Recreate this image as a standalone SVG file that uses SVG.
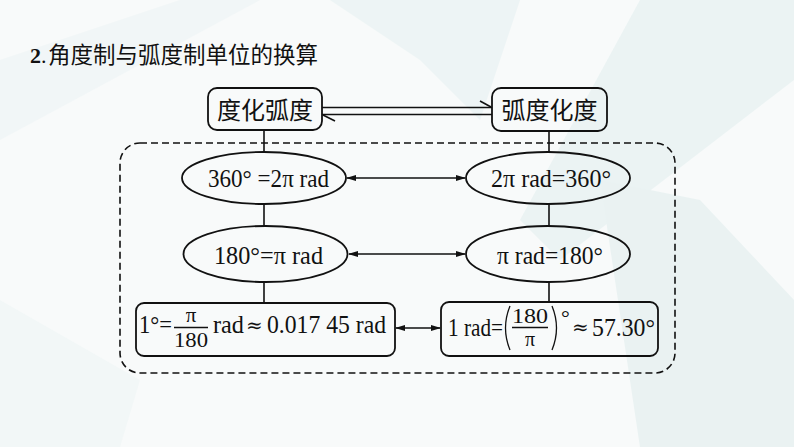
<svg xmlns="http://www.w3.org/2000/svg" width="794" height="447" viewBox="0 0 794 447">
<defs>
<marker id="ah" markerWidth="10" markerHeight="8" refX="9" refY="4" orient="auto-start-reverse" markerUnits="userSpaceOnUse">
<path d="M0,1 L10,4 L0,7 Z" fill="#111"/>
</marker>
<style>
.ln{stroke:#111;stroke-width:1.6;fill:none}
.nd{fill:none;stroke:#111;stroke-width:1.8}
.tx{font-family:"Liberation Serif","Times New Roman",serif;font-size:25px;fill:#111}
.sy{font-family:"DejaVu Serif",serif;font-size:20px;fill:#111}
.cj{font-family:"Noto Sans CJK SC","Noto Sans",sans-serif;font-size:23px;fill:#111}
</style>
</defs>
<rect width="794" height="447" fill="#f8fafa"/>
<g opacity="0.6">
<polygon points="330,0 520,0 480,120 420,60" fill="#e6f1f2"/>
<polygon points="640,0 794,0 794,80 560,260 520,220" fill="#e3f0f0"/>
<polygon points="600,180 700,200 794,300 794,447 640,447" fill="#e1eeee"/>
<polygon points="0,60 180,0 260,0 0,140" fill="#edf4f5"/>
<polygon points="0,300 140,380 120,447 0,447" fill="#eef5f5"/>
</g>
<g id="title">
<text x="30" y="63" style="font-family:'Liberation Serif',serif;font-size:22px;font-weight:bold;fill:#111">2</text>
<text x="41" y="63" style="font-family:'Liberation Serif',serif;font-size:22px;fill:#111">.</text>
<text x="48" y="63" class="cj" style="font-size:22.5px">角度制与弧度制单位的换算</text>
</g>
<g id="connectors">
<line class="ln" x1="322" y1="107.5" x2="492" y2="107.5"/>
<line class="ln" x1="480" y1="101" x2="491" y2="107"/>
<line class="ln" x1="322" y1="114.5" x2="492" y2="114.5"/>
<line class="ln" x1="323" y1="115" x2="335" y2="121"/>
<line class="ln" x1="264" y1="130" x2="264" y2="152"/>
<line class="ln" x1="264" y1="204" x2="264" y2="226"/>
<line class="ln" x1="264" y1="282" x2="264" y2="303"/>
<line class="ln" x1="549" y1="131" x2="549" y2="152"/>
<line class="ln" x1="549" y1="204" x2="549" y2="226"/>
<line class="ln" x1="549" y1="282" x2="549" y2="302"/>
<line class="ln" x1="347" y1="178" x2="465" y2="178" marker-start="url(#ah)" marker-end="url(#ah)"/>
<line class="ln" x1="349" y1="254" x2="465" y2="254" marker-start="url(#ah)" marker-end="url(#ah)"/>
<line class="ln" x1="396" y1="328" x2="440" y2="328" marker-start="url(#ah)" marker-end="url(#ah)"/>
</g>
<g id="group-box">
<rect x="120" y="143" width="555" height="230" rx="20" fill="none" stroke="#111" stroke-width="1.6" stroke-dasharray="7,4"/>
</g>
<g id="deg2rad">
<rect class="nd" x="208" y="88" width="114" height="42" rx="9"/>
<text class="cj" x="265" y="119" text-anchor="middle" style="font-size:24px">度化弧度</text>
</g>
<g id="rad2deg">
<rect class="nd" x="492" y="88" width="115" height="43" rx="9"/>
<text class="cj" x="549.5" y="119" text-anchor="middle" style="font-size:24px">弧度化度</text>
</g>
<g id="e360">
<ellipse class="nd" cx="264" cy="178" rx="82" ry="26"/>
<text class="tx" x="208" y="187" textLength="121" lengthAdjust="spacingAndGlyphs">360° =2π rad</text>
</g>
<g id="e2pi">
<ellipse class="nd" cx="548" cy="178" rx="82" ry="26"/>
<text class="tx" x="491" y="187" textLength="120" lengthAdjust="spacingAndGlyphs">2π rad=360°</text>
</g>
<g id="e180">
<ellipse class="nd" cx="265.5" cy="254" rx="82" ry="28"/>
<text class="tx" x="214" y="264" textLength="109" lengthAdjust="spacingAndGlyphs">180°=π rad</text>
</g>
<g id="epi">
<ellipse class="nd" cx="548" cy="254" rx="82" ry="28"/>
<text class="tx" x="497" y="264" textLength="106" lengthAdjust="spacingAndGlyphs">π rad=180°</text>
</g>
<g id="one-degree">
<rect class="nd" x="136" y="303" width="259" height="53" rx="8"/>
<text class="tx" x="139" y="333" textLength="33" lengthAdjust="spacingAndGlyphs">1°=</text>
<text class="tx" x="191" y="322" text-anchor="middle" style="font-size:21px">π</text>
<line x1="174" y1="327.5" x2="208" y2="327.5" stroke="#111" stroke-width="1.3"/>
<text class="tx" x="174" y="347" textLength="34" lengthAdjust="spacingAndGlyphs" style="font-size:22px">180</text>
<text class="tx" x="213" y="333" textLength="31" lengthAdjust="spacingAndGlyphs">rad</text>
<text class="sy" x="246" y="332">≈</text>
<text class="tx" x="267" y="333" textLength="119" lengthAdjust="spacingAndGlyphs">0.017 45 rad</text>
</g>
<g id="one-rad">
<rect class="nd" x="441" y="302" width="217" height="54" rx="8"/>
<text class="tx" x="448" y="336" textLength="55" lengthAdjust="spacingAndGlyphs">1 rad=</text>
<path d="M510,306 Q501,328 510,350" fill="none" stroke="#111" stroke-width="1.3"/>
<text class="tx" x="512" y="323" textLength="36" lengthAdjust="spacingAndGlyphs" style="font-size:22px">180</text>
<line x1="512" y1="327.5" x2="548" y2="327.5" stroke="#111" stroke-width="1.3"/>
<text class="tx" x="530" y="346" text-anchor="middle" style="font-size:20px">π</text>
<path d="M552,306 Q561,328 552,350" fill="none" stroke="#111" stroke-width="1.3"/>
<text class="tx" x="561" y="325" style="font-size:22px">°</text>
<text class="sy" x="572" y="334">≈</text>
<text class="tx" x="592" y="336" textLength="63" lengthAdjust="spacingAndGlyphs">57.30°</text>
</g>
</svg>
